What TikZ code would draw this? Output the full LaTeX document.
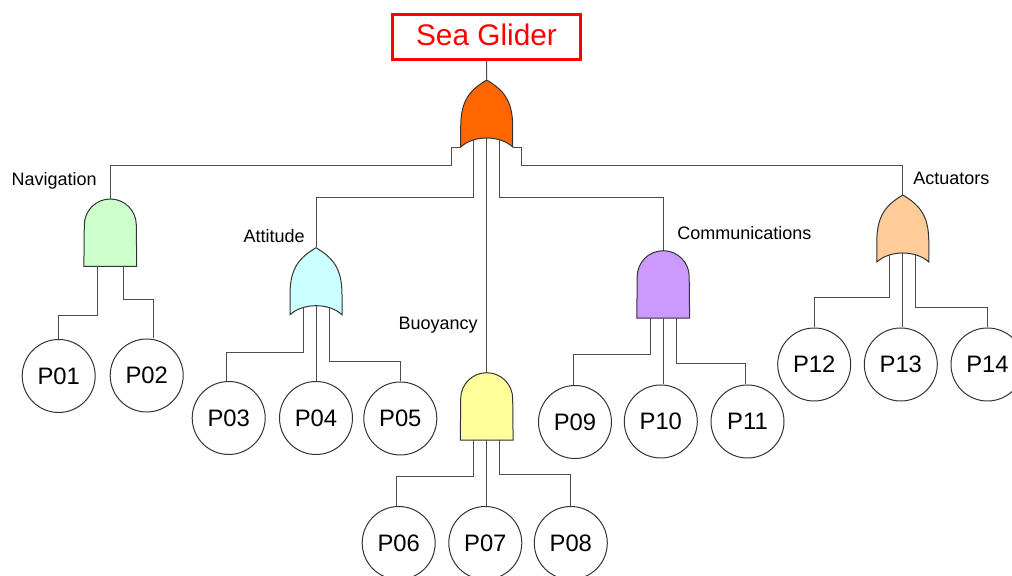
\documentclass[tikz,border=0pt]{standalone}
\usepackage{fontspec}
\setmainfont{Liberation Sans}
\usepackage{tikz}
\usetikzlibrary{arrows,positioning}

\definecolor{topfill}{HTML}{FF6600}
\definecolor{navfill}{HTML}{CCFFCC}
\definecolor{attfill}{HTML}{CCFFFF}
\definecolor{buoyfill}{HTML}{FFFF99}
\definecolor{commfill}{HTML}{CC99FF}
\definecolor{actfill}{HTML}{FFCC99}

\tikzset{
  gate/.style={rectangle, minimum width=26pt, minimum height=33.5pt, inner sep=0pt},
  gateline/.style={draw=black!80, line width=0.5pt},
  wire/.style={draw=black!70, line width=0.5pt},
  event/.style={circle, draw=black!80, fill=white, line width=0.5pt, minimum size=36.5pt, inner sep=0pt, font=\fontsize{11.9}{14}\selectfont},
  gatelabel/.style={inner sep=0pt, font=\fontsize{9}{11}\selectfont},
  headbox/.style={rectangle, draw=red, line width=1.5pt, fill=white, text=red, minimum width=94pt, minimum height=22.5pt, text height=10.5pt, text depth=2pt, font=\fontsize{14.9}{18}\selectfont}
}

% or gate: name, x, y, fill
\newcommand{\draworgate}[4]{%
  \node at (#2, #3) [gate] (#1) {};
  \filldraw[gateline, fill=#4] ({#2-26}, {#3+33.5}) -- ({#2-26}, {#3+13.5})
    .. controls ({#2-26}, {#3-13.5}) and ({#2-16.5}, {#3-23.5}) .. (#2, {#3-33.5})
    .. controls ({#2+16.5}, {#3-23.5}) and ({#2+26}, {#3-13.5}) .. ({#2+26}, {#3+13.5})
    -- ({#2+26}, {#3+33.5})
    .. controls ({#2+13}, {#3+21.5}) and ({#2-13}, {#3+21.5}) .. cycle;
  \coordinate (#1-a) at ({#2-13}, {#3+26.5});
  \coordinate (#1-b) at (#2, {#3+24.5});
  \coordinate (#1-c) at ({#2+13}, {#3+26.5});
}

% and gate: name, x, y, fill
\newcommand{\drawandgate}[4]{%
  \node at (#2, #3) [gate] (#1) {};
  \filldraw[gateline, fill=#4] (#1.south west) -- (#1.south east) -- ({#2+26}, {#3-7.5})
    arc[start angle=0, end angle=180, radius=13pt] -- cycle;
  \coordinate (#1-a) at ({#2-13}, {#3+33.5});
  \coordinate (#1-b) at (#2, {#3+33.5});
  \coordinate (#1-c) at ({#2+13}, {#3+33.5});
}

\begin{document}
\begin{tikzpicture}[x=0.5pt, y=-0.5pt,
  ]
  \fill[white] (0,0) rectangle (1012,576);
  \useasboundingbox (0,0) rectangle (1012,576);

  %top event
  \node at (486.5, 37) [headbox] (glider) {Sea Glider};

  %gates
  \draworgate{top}{486.7}{113.5}{topfill}
  \drawandgate{nav}{110.3}{232.5}{navfill}
  \draworgate{att}{316}{281.2}{attfill}
  \drawandgate{buoy}{486.7}{406.2}{buoyfill}
  \drawandgate{comm}{663.2}{284.2}{commfill}
  \draworgate{act}{902.8}{228.5}{actfill}

  %gate labels
  \node at (97, 186) [gatelabel, anchor=base east] (navlabel) {Navigation};
  \node at (305, 242.7) [gatelabel, anchor=base east] (attlabel) {Attitude};
  \node at (478, 329.5) [gatelabel, anchor=base east] (buoylabel) {Buoyancy};
  \node at (677, 239.5) [gatelabel, anchor=base west] (commlabel) {Communications};
  \node at (913, 184.3) [gatelabel, anchor=base west] (actlabel) {Actuators};

  %basic events
  \node at (58.7, 376) [event] (p01) {P01};
  \node at (146.7, 375.5) [event] (p02) {P02};
  \node at (228.7, 418) [event] (p03) {P03};
  \node at (316, 418) [event] (p04) {P04};
  \node at (400.3, 418.5) [event] (p05) {P05};
  \node at (398.7, 543) [event] (p06) {P06};
  \node at (485.3, 543) [event] (p07) {P07};
  \node at (570.8, 543) [event] (p08) {P08};
  \node at (575, 422) [event] (p09) {P09};
  \node at (660.8, 421.5) [event] (p10) {P10};
  \node at (747.5, 421.5) [event] (p11) {P11};
  \node at (814.2, 364.5) [event] (p12) {P12};
  \node at (900.8, 364.5) [event] (p13) {P13};
  \node at (987.5, 364.5) [event] (p14) {P14};

  %wires
  \draw[wire] (glider.south) -- (top.north);
  \draw[wire] (top.south west) -- ++(-8.5,0) -- ++(0,18) -| (nav.north);
  \draw[wire] (top.south east) -- ++(8.5,0) -- ++(0,18) -| (act.north);
  \draw[wire] (top-a) -- ++(0,58) -| (att.north);
  \draw[wire] (top-b) -- (buoy.north);
  \draw[wire] (top-c) -- ++(0,58) -| (comm.north);

  \draw[wire] (nav-a) -- ++(0,49.5) -| (p01.north);
  \draw[wire] (nav-c) -- ++(0,34) -| ([xshift=3.5pt]p02.north);

  \draw[wire] (att-a) -- ++(0,45) -| ([xshift=-1pt]p03.north);
  \draw[wire] (att-b) -- (att-b |- p04.north);
  \draw[wire] (att-c) -- ++(0,54) -| (p05.north);

  \draw[wire] (buoy-a) -- ++(0,37) -| ([xshift=-1pt]p06.north);
  \draw[wire] (buoy-b) -- (buoy-b |- p07.north);
  \draw[wire] (buoy-c) -- ++(0,35) -| (p08.north);

  \draw[wire] (comm-a) -- ++(0,37) -| ([xshift=-1pt]p09.north);
  \draw[wire] (comm-b) -- (comm-b |- p10.north);
  \draw[wire] (comm-c) -- ++(0,46) -| ([xshift=-1pt]p11.north);

  \draw[wire] (act-a) -- ++(0,43) -| (p12.north);
  \draw[wire] (act-b) -- (act-b |- p13.north);
  \draw[wire] (act-c) -- ++(0,53) -| (p14.north);
\end{tikzpicture}
\end{document}
